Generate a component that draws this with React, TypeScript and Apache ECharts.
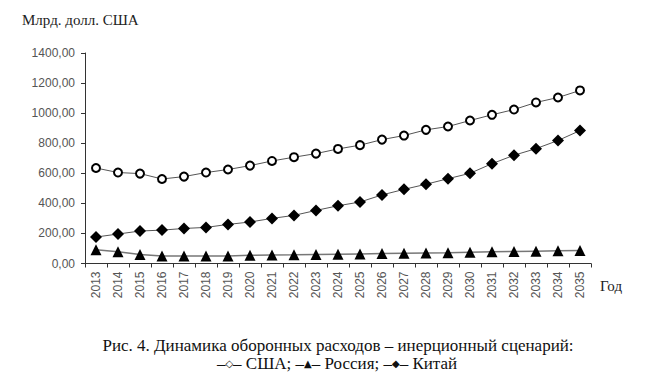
import React, { useEffect, useRef } from "react";
import * as echarts from "echarts";

const years = ["2013","2014","2015","2016","2017","2018","2019","2020","2021","2022","2023","2024","2025","2026","2027","2028","2029","2030","2031","2032","2033","2034","2035"];
const usa = [635, 605, 598, 562, 578, 605, 625, 651, 682, 707, 731, 762, 787, 824, 851, 889, 911, 951, 989, 1024, 1071, 1104, 1151];
const russia = [92, 78, 60, 50, 50, 50, 50, 55, 57, 58, 60, 62, 64, 66, 68, 70, 72, 75, 78, 80, 82, 84, 86];
const china = [176, 196, 216, 222, 233, 240, 260, 276, 300, 320, 353, 384, 409, 456, 493, 527, 564, 600, 664, 720, 764, 818, 884];
const yTicks = { min: 0, max: 1400, interval: 200 };
const yTitle = "Млрд. долл. США";
const xTitle = "Год";
const caption1 = "Рис. 4. Динамика оборонных расходов – инерционный сценарий:";
const caption2 = "–{s|◇}– США; –{s|▲}– Россия; –{s|◆}– Китай";
const seriesNames = ["США", "Россия", "Китай"];

export default function App() {
  const ref = useRef<HTMLDivElement>(null);
  useEffect(() => {
    const chart = echarts.init(ref.current!, null, { renderer: "svg" });
    const serif = "'Liberation Serif', 'Times New Roman', serif";
    const sans = "'Liberation Sans', Arial, sans-serif";
    const lineStyle = { color: "#555", width: 1 };
    chart.setOption({
      animation: false,
      backgroundColor: "#fff",
      grid: { left: 85, right: 59, top: 53, bottom: 113.5 },
      xAxis: {
        type: "category",
        data: years,
        boundaryGap: true,
        axisLine: { lineStyle: { color: "#333", width: 1 } },
        axisTick: { show: true, length: 4, lineStyle: { color: "#333" } },
        axisLabel: { rotate: 90, fontFamily: sans, fontSize: 12, color: "#555", margin: 8, interval: 0 },
        splitLine: { show: false },
      },
      yAxis: {
        type: "value",
        min: yTicks.min,
        max: yTicks.max,
        interval: yTicks.interval,
        axisLine: { show: true, lineStyle: { color: "#333", width: 1 } },
        axisTick: { show: true, length: 4, lineStyle: { color: "#333" } },
        axisLabel: {
          fontFamily: sans,
          fontSize: 12,
          color: "#555",
          margin: 10,
          formatter: (v: number) => v.toFixed(2).replace(".", ","),
        },
        splitLine: { show: false },
      },
      series: [
        {
          name: seriesNames[0],
          type: "line",
          data: usa,
          symbol: "circle",
          symbolSize: 8,
          lineStyle,
          itemStyle: { color: "#fff", borderColor: "#000", borderWidth: 2 },
        },
        {
          name: seriesNames[1],
          type: "line",
          data: russia,
          symbol: "triangle",
          symbolSize: 11,
          lineStyle: { color: "#777", width: 1.5 },
          itemStyle: { color: "#000" },
        },
        {
          name: seriesNames[2],
          type: "line",
          data: china,
          symbol: "diamond",
          symbolSize: 12,
          lineStyle,
          itemStyle: { color: "#000" },
        },
      ],
      graphic: [
        { type: "text", left: 22, top: 12, style: { text: yTitle, font: `15px ${serif}`, fill: "#222" } },
        { type: "text", left: 600, top: 278, style: { text: xTitle, font: `15px ${serif}`, fill: "#222" } },
        { type: "text", x: 338, y: 345, style: { text: caption1, font: `17px ${serif}`, fill: "#111", align: "center", verticalAlign: "middle" } },
        {
          type: "text", x: 337, y: 363,
          style: {
            text: caption2, fontFamily: serif, fontSize: 17, fill: "#111", align: "center", verticalAlign: "middle",
            rich: { s: { fontFamily: "'DejaVu Sans', sans-serif", fontSize: 10, fill: "#111" } },
          },
        },
      ],
    });
    return () => chart.dispose();
  }, []);
  return <div ref={ref} style={{ width: 650, height: 377, position: "absolute", left: 0, top: 0 }} />;
}
